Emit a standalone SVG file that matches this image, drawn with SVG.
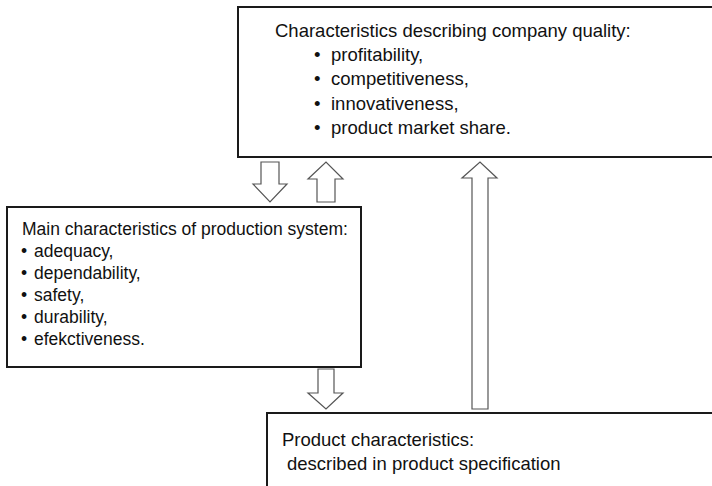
<svg xmlns="http://www.w3.org/2000/svg" width="712" height="486" viewBox="0 0 712 486">
<style>
.box{fill:#fff;stroke:#1a1a1a;stroke-width:2}
.arr{fill:#fff;stroke:#555;stroke-width:1.2;stroke-linejoin:miter}
text{font-family:"Liberation Sans",Arial,sans-serif;font-size:18.5px;fill:#111}
.sm{font-size:17.5px}
</style>
<rect width="712" height="486" fill="#fff"/>
<g id="connectors">
<polygon class="arr" points="261,162 279,162 279,184 287,184 270,202 253,184 261,184"/>
<polygon class="arr" points="317,202 335,202 335,179 343,179 326,162 308,179 317,179"/>
<polygon class="arr" points="318,369 334,369 334,393 343,393 326,409 308,393 318,393"/>
<polygon class="arr" points="472,409 488,409 488,178 497,178 480,162 462,178 472,178"/>
</g>
<g id="company-quality">
<rect class="box" x="238" y="7" width="490" height="150"/>
<text x="275" y="37">Characteristics describing company quality:</text>
<text x="314" y="61">•</text><text x="331" y="61">profitability,</text>
<text x="314" y="85">•</text><text x="331" y="85">competitiveness,</text>
<text x="314" y="110">•</text><text x="331" y="110">innovativeness,</text>
<text x="314" y="134">•</text><text x="331" y="134">product market share.</text>
</g>
<g id="production-system">
<rect class="box" x="7" y="207" width="354" height="160"/>
<text class="sm" x="22" y="235">Main characteristics of production system:</text>
<text class="sm" x="21" y="257">•</text><text class="sm" x="34" y="257">adequacy,</text>
<text class="sm" x="21" y="279">•</text><text class="sm" x="34" y="279">dependability,</text>
<text class="sm" x="21" y="301">•</text><text class="sm" x="34" y="301">safety,</text>
<text class="sm" x="21" y="323">•</text><text class="sm" x="34" y="323">durability,</text>
<text class="sm" x="21" y="345">•</text><text class="sm" x="34" y="345">efekctiveness.</text>
</g>
<g id="product-characteristics">
<rect class="box" x="267" y="413" width="470" height="90"/>
<text x="282" y="446">Product characteristics:</text>
<text x="287" y="470">described in product specification</text>
</g>
</svg>
